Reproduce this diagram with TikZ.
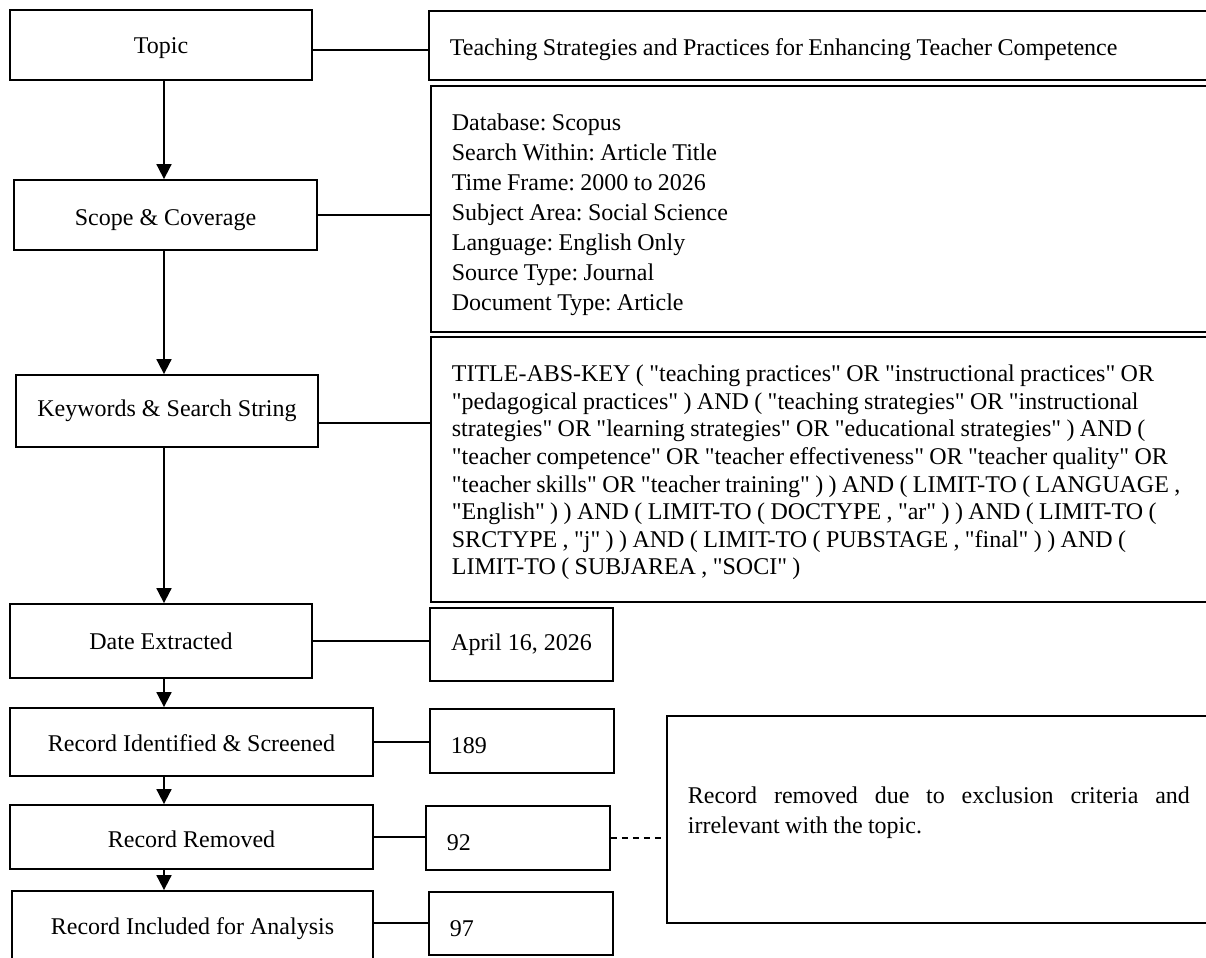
\documentclass[tikz,border=0pt]{standalone}
\usepackage{fontspec}
\setmainfont{Liberation Serif}[Ligatures=TeXOff]
\usetikzlibrary{arrows.meta,positioning}
\frenchspacing
\newcommand{\lift}[1]{\rule{0pt}{#1}}
\newcommand{\sink}[1]{\rule[-#1]{0pt}{0pt}}

\begin{document}
\begin{tikzpicture}[
  x=0.5pt, y=-0.5pt,
  font=\fontsize{12}{13.8}\selectfont,
  box/.style={rectangle, draw, line width=0.9pt, inner sep=0pt, align=center},
  info/.style={rectangle, draw, line width=0.9pt, anchor=west, align=left,
               inner xsep=10.5pt, inner ysep=0pt,
               execute at begin node={\spaceskip=2.7pt plus 1.5pt minus 0.5pt\relax}},
  arr/.style={-{Triangle[length=7.5pt,width=7.5pt]}, line width=0.9pt},
  link/.style={line width=0.9pt}
]
  \useasboundingbox (0,0) rectangle (1206,958);
  \coordinate (spine) at (164,0);

  \node[box, minimum width=151pt, minimum height=35pt] (topic) at (161,45) {\lift{11pt}Topic};
  \node[box, minimum width=151.5pt, minimum height=35pt] (scope) at (165.5,215) {\lift{13pt}Scope \& Coverage};
  \node[box, minimum width=151pt, minimum height=36pt] (kw) at (167,411) {Keywords \& Search String};
  \node[box, minimum width=151pt, minimum height=37pt] (date) at (161,641) {Date Extracted};
  \node[box, minimum width=181.5pt, minimum height=34pt] (ris) at (191.5,742) {\lift{10pt}Record Identified \& Screened};
  \node[box, minimum width=181.5pt, minimum height=32pt] (rr) at (191.5,837) {\lift{11pt}Record Removed};
  \node[box, minimum width=180.5pt, minimum height=36pt] (ria) at (192.5,927) {\lift{10pt}Record Included for Analysis};

  \node[info, text width=373pt, minimum height=34.5pt] (topicR) at (428,45.5)
    {\lift{12.5pt}Teaching Strategies and Practices for Enhancing Teacher Competence};
  \node[info, text width=380pt, minimum height=123pt, font=\fontsize{12}{15}\selectfont] (scopeR) at (430,209)
    {\lift{14.3pt}Database: Scopus\\ Search Within: Article Title\\ Time Frame: 2000 to 2026\\
     Subject Area: Social Science\\ Language: English Only\\ Source Type: Journal\\
     Document Type: Article};
  \node[info, text width=380pt, minimum height=132.5pt] (kwR) at (430,469.5)
    {\lift{11.3pt}TITLE-ABS-KEY ( "teaching practices" OR "instructional practices" OR\\
     "pedagogical practices" ) AND ( "teaching strategies" OR "instructional\\
     strategies" OR "learning strategies" OR "educational strategies" ) AND (\\
     "teacher competence" OR "teacher effectiveness" OR "teacher quality" OR\\
     "teacher skills" OR "teacher training" ) ) AND ( LIMIT-TO ( LANGUAGE ,\\
     "English" ) ) AND ( LIMIT-TO ( DOCTYPE , "ar" ) ) AND ( LIMIT-TO (\\
     SRCTYPE , "j" ) ) AND ( LIMIT-TO ( PUBSTAGE , "final" ) ) AND (\\
     LIMIT-TO ( SUBJAREA , "SOCI" )};
  \node[box, minimum width=91.5pt, minimum height=36.5pt] (dateR) at (521.5,644.5) {April 16, 2026};
  \node[info, text width=71pt, minimum height=32pt] (risR) at (429,741) {\lift{13pt}189};
  \node[info, text width=71pt, minimum height=32pt] (rrR) at (425,838) {\lift{13pt}92};
  \node[info, text width=71pt, minimum height=31.5pt] (riaR) at (428,923.5) {\lift{13pt}97};
  \node[info, text width=251pt, minimum height=103.5pt, align=justify,
        font=\fontsize{12}{15}\selectfont] (note) at (666,819.5)
    {Record removed due to exclusion criteria and \mbox{irrelevant} with the topic.\sink{9.6pt}};

  \draw[arr] (spine |- topic.south) -- (spine |- scope.north);
  \draw[arr] (spine |- scope.south) -- (spine |- kw.north);
  \draw[arr] (spine |- kw.south) -- (spine |- date.north);
  \draw[arr] (spine |- date.south) -- (spine |- ris.north);
  \draw[arr] (spine |- ris.south) -- (spine |- rr.north);
  \draw[arr] (spine |- rr.south) -- (spine |- ria.north);

  \draw[link] ([yshift=-2.5pt]topic.east) -- ([yshift=-2.5pt]topic.east -| topicR.west);
  \draw[link] (scope.east) -- (scope.east -| scopeR.west);
  \draw[link] ([yshift=-6pt]kw.east) -- ([yshift=-6pt]kw.east -| kwR.west);
  \draw[link] (date.east) -- (date.east -| dateR.west);
  \draw[link] (ris.east) -- (ris.east -| risR.west);
  \draw[link] (rr.east) -- (rr.east -| rrR.west);
  \draw[link] ([yshift=2pt]ria.east) -- ([yshift=2pt]ria.east -| riaR.west);
  \draw[link, dash pattern=on 3pt off 2.5pt] (rrR.east) -- (rrR.east -| note.west);
\end{tikzpicture}
\end{document}
